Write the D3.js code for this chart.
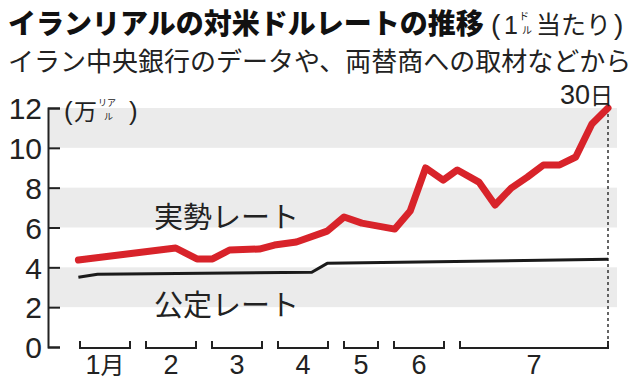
<!DOCTYPE html>
<html>
<head>
<meta charset="utf-8">
<script src="https://cdn.jsdelivr.net/npm/d3@7"></script>
<style>
body { margin: 0; background: #fff; }
svg { display: block; }
.jp { font-family: "Noto Sans CJK JP", "Noto Sans", sans-serif; }
.num { font-family: "Liberation Sans Narrow", "Liberation Sans", Arial, sans-serif; }
</style>
</head>
<body>
<svg id="chart" width="640" height="380"></svg>
<script>
// data
var monthDays = [31, 28, 31, 30, 31, 30, 31];
var monthLabels = ["1月", "2", "3", "4", "5", "6", "7"];
var lastDate = "7/30";

// 実勢レート (万リアル)
var realDates = ["1/4", "2/17", "2/26", "3/5", "3/13", "3/27", "4/3", "4/13", "4/27",
  "5/6", "5/17", "6/5", "6/12", "6/19", "6/27", "7/2", "7/6", "7/9", "7/12",
  "7/15", "7/18", "7/21", "7/24", "7/27", "7/30"];
var realRates = [4.37, 4.97, 4.42, 4.42, 4.87, 4.92, 5.12, 5.27, 5.82,
  6.53, 6.22, 5.92, 6.83, 8.99, 8.38, 8.89, 8.28, 7.13, 7.98,
  8.53, 9.14, 9.14, 9.54, 11.2, 12.0];

// 公定レート
var officialDates = ["1/4", "1/13", "4/20", "4/27", "7/30"];
var officialRates = [3.5, 3.65, 3.75, 4.2, 4.4];

var yTicks = [0, 2, 4, 6, 8, 10, 12];
var bandRanges = [[2, 4], [6, 8], [10, 12]];

// date "m/d" -> month position
function pos(s) {
  var p = s.split("/");
  var m = +p[0], d = +p[1];
  return m + (d - 1) / monthDays[m - 1];
}

var svg = d3.select("#chart");
svg.append("rect").attr("width", 640).attr("height", 380).attr("fill", "#fff");

// x is a piecewise scale, months are not equal width in the original
var endPos = pos(lastDate);
var x = d3.scaleLinear()
  .domain([1, 2, 3, 4, 5, 6, 7, endPos])
  .range([72, 138, 204, 270, 336, 386, 452, 608]);
var y = d3.scaleLinear().domain([0, 12]).range([347, 108]);

var axisX = 48, bandRight = 617;

// grey bands
svg.selectAll(".band")
  .data(bandRanges)
  .enter()
  .append("rect")
  .attr("class", "band")
  .attr("x", axisX + 1)
  .attr("width", bandRight - axisX - 1)
  .attr("y", function (d) { return y(d[1]); })
  .attr("height", function (d) { return y(d[0]) - y(d[1]); })
  .attr("fill", "#ebebeb");

// y axis
var yAxis = d3.axisLeft(y)
  .tickValues(yTicks)
  .tickSize(-12)
  .tickSizeOuter(-12)
  .tickPadding(6);
var gy = svg.append("g")
  .attr("transform", "translate(" + axisX + ",0)")
  .call(yAxis);
gy.selectAll("path, line").attr("stroke", "#222").attr("stroke-width", 2);
gy.selectAll("text")
  .attr("class", "num")
  .attr("font-size", 30)
  .attr("fill", "#222")
  .attr("dy", "0.36em");

// unit label
var unit = svg.append("g").attr("fill", "#222");
unit.append("text").attr("class", "num").attr("x", 64).attr("y", 120).attr("font-size", 26).text("(");
unit.append("text").attr("class", "jp").attr("x", 74).attr("y", 120).attr("font-size", 23).text("万");
unit.append("text").attr("class", "jp").attr("x", 98).attr("y", 106).attr("font-size", 9).text("リア");
unit.append("text").attr("class", "jp").attr("x", 104).attr("y", 120).attr("font-size", 9).text("ル");
unit.append("text").attr("class", "num").attr("x", 129).attr("y", 120).attr("font-size", 26).text(")");

// month brackets
var brackets = svg.append("g");
monthLabels.forEach(function (lab, i) {
  var x0 = x(i + 1) + 8;
  var x1 = i < 6 ? x(i + 2) - 8 : x(endPos);
  brackets.append("path")
    .attr("d", "M" + x0 + ",341V348H" + x1 + "V341")
    .attr("fill", "none")
    .attr("stroke", "#222")
    .attr("stroke-width", 2);
  var t = brackets.append("text")
    .attr("x", (x0 + x1) / 2)
    .attr("y", 374)
    .attr("text-anchor", "middle")
    .attr("font-size", 27)
    .attr("fill", "#222");
  if (lab.length > 1) {
    t.append("tspan").attr("class", "num").text(lab[0]);
    t.append("tspan").attr("class", "jp").attr("font-size", 24).text(lab.slice(1));
  } else {
    t.attr("class", "num").text(lab);
  }
});

// dotted marker for last day
svg.append("line")
  .attr("x1", x(endPos)).attr("x2", x(endPos))
  .attr("y1", y(12)).attr("y2", y(0))
  .attr("stroke", "#333")
  .attr("stroke-width", 1.5)
  .attr("stroke-dasharray", "3,3");

var line = d3.line()
  .x(function (d) { return x(pos(d[0])); })
  .y(function (d) { return y(d[1]); });

svg.append("path")
  .attr("d", line(d3.zip(officialDates, officialRates)))
  .attr("fill", "none")
  .attr("stroke", "#1a1a1a")
  .attr("stroke-width", 3)
  .attr("stroke-linejoin", "round");

svg.append("path")
  .attr("d", line(d3.zip(realDates, realRates)))
  .attr("fill", "none")
  .attr("stroke", "#d8232a")
  .attr("stroke-width", 7)
  .attr("stroke-linejoin", "round")
  .attr("stroke-linecap", "round");

// series labels
svg.append("text").attr("class", "jp").attr("x", 154).attr("y", 228)
  .attr("font-size", 29).attr("fill", "#222").text("実勢レート");
svg.append("text").attr("class", "jp").attr("x", 154).attr("y", 316)
  .attr("font-size", 29).attr("fill", "#222").text("公定レート");

// 30日
var endLab = svg.append("text")
  .attr("x", 613).attr("y", 104)
  .attr("text-anchor", "end")
  .attr("fill", "#222");
endLab.append("tspan").attr("class", "num").attr("font-size", 27).text("30");
endLab.append("tspan").attr("class", "jp").attr("font-size", 23).text("日");

// titles
svg.append("text").attr("class", "jp").attr("x", 8).attr("y", 34)
  .attr("font-size", 28).attr("font-weight", 900).attr("fill", "#111")
  .text("イランリアルの対米ドルレートの推移");
var sub = svg.append("g").attr("fill", "#222");
sub.append("text").attr("class", "num").attr("x", 491).attr("y", 34).attr("font-size", 28).text("(");
sub.append("text").attr("class", "num").attr("x", 504).attr("y", 34).attr("font-size", 25).text("1");
sub.append("text").attr("class", "jp").attr("x", 519).attr("y", 20).attr("font-size", 10).text("ド");
sub.append("text").attr("class", "jp").attr("x", 522).attr("y", 34).attr("font-size", 10).text("ル");
sub.append("text").attr("class", "jp").attr("x", 536).attr("y", 34).attr("font-size", 25).text("当たり");
sub.append("text").attr("class", "num").attr("x", 614).attr("y", 34).attr("font-size", 28).text(")");

svg.append("text").attr("class", "jp").attr("x", 8).attr("y", 71)
  .attr("font-size", 26).attr("fill", "#222")
  .text("イラン中央銀行のデータや、両替商への取材などから");
</script>
</body>
</html>
